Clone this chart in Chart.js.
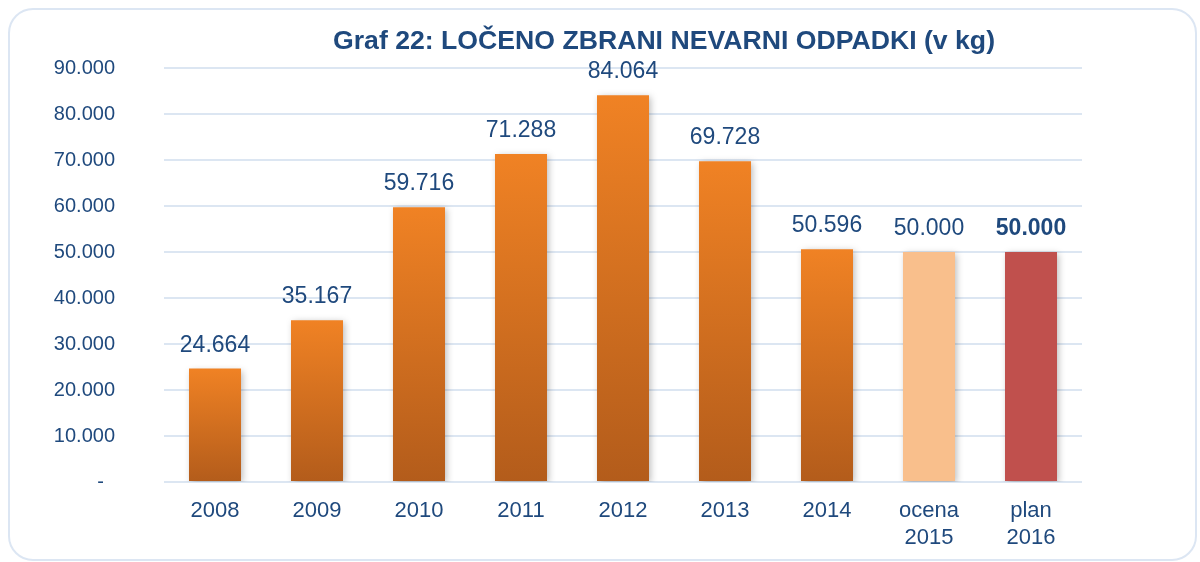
<!DOCTYPE html>
<html>
<head>
<meta charset="utf-8">
<script src="https://cdn.jsdelivr.net/npm/chart.js@4"></script>
<style>
  html, body { margin: 0; padding: 0; background: #fff; }
  #wrap { width: 1200px; height: 562px; position: relative; }
</style>
</head>
<body>
<div id="wrap"><canvas id="odpadkiChart" width="1200" height="562"></canvas></div>
<script>
// data
const categories = ['2008', '2009', '2010', '2011', '2012', '2013', '2014', ['ocena', '2015'], ['plan', '2016']];
const values = [24664, 35167, 59716, 71288, 84064, 69728, 50596, 50000, 50000];
const yTicks = [0, 10000, 20000, 30000, 40000, 50000, 60000, 70000, 80000, 90000];
const chartTitle = 'Graf 22: LOČENO ZBRANI NEVARNI ODPADKI (v kg)';

const textColor = '#1F497D';
const fmt = v => String(v).replace(/\B(?=(\d{3})+(?!\d))/g, '.');

function barColor(context) {
    const i = context.dataIndex;
    if (i === 7) return '#F9BF8C';
    if (i === 8) return '#C0504D';
    const chart = context.chart;
    const y = chart.scales.y;
    if (!y || !chart.chartArea) return '#E07A22';
    const top = y.getPixelForValue(values[i]);
    const bottom = y.getPixelForValue(0);
    const g = chart.ctx.createLinearGradient(0, top, 0, bottom);
    g.addColorStop(0, '#F08224');
    g.addColorStop(1, '#B35C1B');
    return g;
}

// frame + title
const framePlugin = {
    id: 'frame',
    beforeDraw(chart) {
        const ctx = chart.ctx;
        ctx.save();
        ctx.fillStyle = '#fff';
        ctx.fillRect(0, 0, chart.width, chart.height);
        ctx.strokeStyle = '#DCE6F3';
        ctx.lineWidth = 2;
        ctx.beginPath();
        ctx.roundRect(9, 9, 1187, 551, 24);
        ctx.stroke();
        ctx.restore();
    },
    afterDraw(chart) {
        const ctx = chart.ctx;
        ctx.save();
        ctx.font = "bold 25px 'Liberation Sans Narrow', 'Liberation Sans', Arial, sans-serif";
        ctx.fillStyle = textColor;
        ctx.textAlign = 'center';
        ctx.textBaseline = 'alphabetic';
        const w = ctx.measureText(chartTitle).width;
        const sx = 662 / w;
        ctx.translate(664, 49);
        ctx.scale(sx, 1);
        ctx.fillText(chartTitle, 0, 0);
        ctx.restore();
    }
};

const shadowPlugin = {
    id: 'barShadow',
    beforeDatasetsDraw(chart) {
        const ctx = chart.ctx;
        ctx.save();
        ctx.shadowColor = 'rgba(0, 0, 0, 0.28)';
        ctx.shadowBlur = 7;
        ctx.shadowOffsetX = 2;
        ctx.shadowOffsetY = 2;
    },
    afterDatasetsDraw(chart) {
        chart.ctx.restore();
    }
};

const labelPlugin = {
    id: 'valueLabels',
    afterDatasetsDraw(chart) {
        const ctx = chart.ctx;
        const meta = chart.getDatasetMeta(0);
        ctx.save();
        ctx.fillStyle = textColor;
        ctx.textAlign = 'center';
        ctx.textBaseline = 'alphabetic';
        meta.data.forEach((bar, i) => {
            ctx.font = (i === 8 ? 'bold ' : '') + "23px 'Liberation Sans', Arial, sans-serif";
            ctx.fillText(fmt(values[i]), bar.x, bar.y - 17);
        });
        ctx.restore();
    }
};

new Chart(document.getElementById('odpadkiChart').getContext('2d'), {
    type: 'bar',
    data: {
        labels: categories,
        datasets: [{
            label: 'Ločeno zbrani nevarni odpadki',
            data: values,
            backgroundColor: barColor,
            borderWidth: 0,
            categoryPercentage: 1,
            barPercentage: 0.51
        }]
    },
    options: {
        responsive: false,
        animation: false,
        layout: { padding: { top: 68, right: 118, bottom: 0, left: 0 } },
        plugins: {
            legend: { display: false },
            tooltip: { enabled: false },
            title: { display: false }
        },
        scales: {
            x: {
                grid: { display: false },
                border: { display: false },
                ticks: {
                    color: textColor,
                    padding: 8,
                    font: { family: "'Liberation Sans', Arial, sans-serif", size: 22 }
                },
                afterFit(scale) { scale.height = 80; }
            },
            y: {
                min: 0,
                max: 90000,
                afterBuildTicks(scale) { scale.ticks = yTicks.map(v => ({ value: v })); },
                grid: { color: '#DCE6F2', lineWidth: 2, drawTicks: false },
                border: { display: false },
                ticks: {
                    color: textColor,
                    padding: 49,
                    font: { family: "'Liberation Sans', Arial, sans-serif", size: 20 },
                    callback: v => v === 0 ? '-  ' : fmt(v)
                },
                afterFit(scale) { scale.width = 164; }
            }
        }
    },
    plugins: [framePlugin, shadowPlugin, labelPlugin]
});
</script>
</body>
</html>
